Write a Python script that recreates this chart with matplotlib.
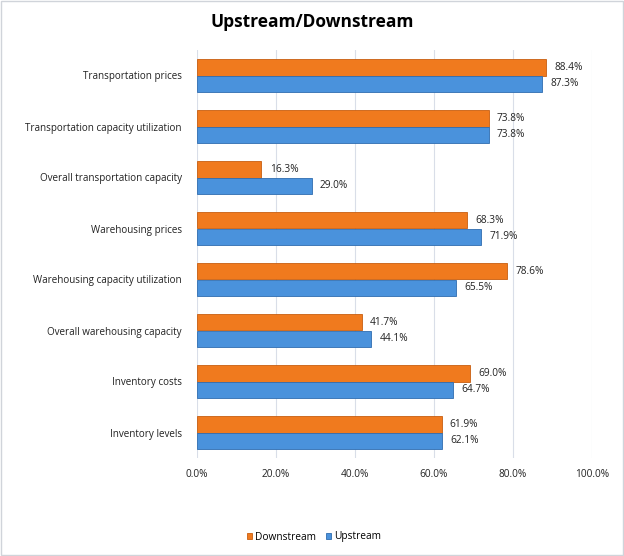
import matplotlib
matplotlib.use("Agg")
import matplotlib.pyplot as plt
import numpy as np
from matplotlib.patches import Rectangle

categories = ["Transportation prices", "Transportation capacity utilization",
              "Overall transportation capacity", "Warehousing prices",
              "Warehousing capacity utilization", "Overall warehousing capacity",
              "Inventory costs", "Inventory levels"]
downstream = [88.4, 73.8, 16.3, 68.3, 78.6, 41.7, 69.0, 61.9]
upstream = [87.3, 73.8, 29.0, 71.9, 65.5, 44.1, 64.7, 62.1]
xticks = [0, 20, 40, 60, 80, 100]

plt.rcParams['font.family'] = ['Open Sans', 'DejaVu Sans']

fig = plt.figure(figsize=(6.24, 5.56), dpi=100)
ax = fig.add_axes([197/624, 1-458/556, (592-197)/624, (458-50)/556])

n = len(categories)
y = np.arange(n)
h = 0.33
orange = "#F07A1E"
blue = "#4A92DC"
bd = ax.barh(y - h/2, downstream, height=h, color=orange, edgecolor="#C85E10", linewidth=0.6, label="Downstream", zorder=3)
bu = ax.barh(y + h/2, upstream, height=h, color=blue, edgecolor="#2F6DB0", linewidth=0.6, label="Upstream", zorder=3)

for rects, vals in ((bd, downstream), (bu, upstream)):
    for r, v in zip(rects, vals):
        ax.annotate(f"{v:.1f}%", (r.get_width(), r.get_y() + r.get_height()/2),
                    xytext=(6, 0), textcoords="offset points", va="center", ha="left",
                    fontsize=7.3, color="#222222")

ax.set_ylim(n - 0.5, -0.5)
ax.set_xlim(0, 100)
ax.set_yticks(y)
ax.set_yticklabels(categories, fontsize=7.1, color="#222222")
ax.set_xticks(xticks)
ax.set_xticklabels([f"{t:.1f}%" for t in xticks], fontsize=7.3, color="#222222")
ax.tick_params(length=0, pad=8)
ax.tick_params(axis='y', pad=11)
ax.grid(axis='x', color="#D9DEE8", linewidth=0.8, zorder=0)
for s in ax.spines.values():
    s.set_visible(False)

fig.text(0.5, 1-22/556, "Upstream/Downstream", ha="center", va="center", fontsize=12.5, fontweight="bold")

fig.legend(handles=[bd, bu], labels=["Downstream", "Upstream"], loc="center",
           bbox_to_anchor=(314/624, 1-537/556), ncol=2, frameon=False, fontsize=7.3,
           handlelength=0.5, handleheight=0.5, handletextpad=0.3, columnspacing=1.0)

fig.patches.append(Rectangle((0.002, 0.002), 0.996, 0.996, transform=fig.transFigure,
                             fill=False, edgecolor="#D0D4DA", linewidth=1))

fig.savefig("out.png", dpi=100)
